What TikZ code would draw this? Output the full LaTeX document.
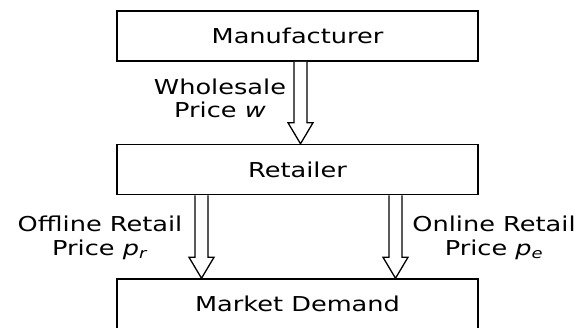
\documentclass[tikz,border=0pt]{standalone}
\usepackage{fontspec}
\setmainfont{DejaVu Sans}[FakeStretch=1.25]
\usetikzlibrary{calc}
\begin{document}
\begin{tikzpicture}[x=1pt,y=-1pt,
  box/.style={draw=black,line width=1.5pt,minimum width=361pt,minimum height=50pt,inner sep=0pt,font=\fontsize{20.5}{23.5}\selectfont},
  lbl/.style={align=center,inner sep=0pt,font=\fontsize{20.5}{23.5}\selectfont},
  blockarrow/.style={draw=black,line width=1.3pt,line join=miter,fill=white}]
\useasboundingbox (0,0) rectangle (578,327);
\clip (0,0) rectangle (578,327);
\node[box] (manu) at (297.5,36) {Manufacturer};
\node[box] (ret) at (297.5,169.5) {Retailer};
\node[box] (mkt) at (297.5,304) {Market Demand};
% arrow anchors
\coordinate (w1) at ($(manu.south)+(3,0)$);
\coordinate (w2) at ($(ret.north)+(3,0)$);
\coordinate (r1) at ($(ret.south)+(-96,0)$);
\coordinate (r2) at ($(mkt.north)+(-96,0)$);
\coordinate (e1) at ($(ret.south)+(98,0)$);
\coordinate (e2) at ($(mkt.north)+(98,0)$);
\foreach \s/\t in {w1/w2,r1/r2,e1/e2}{
  \draw[blockarrow] let \p1=(\s), \p2=(\t) in
    (\x1-6.5pt,\y1) -- (\x1-6.5pt,\y2+21pt) -- (\x1-12.5pt,\y2+21pt) -- (\x1,\y2)
    -- (\x1+12.5pt,\y2+21pt) -- (\x1+6.5pt,\y2+21pt) -- (\x1+6.5pt,\y1);
}
\node[lbl] (wl) at (220,98.5) {Wholesale\\Price \textit{w}};
\node[lbl] (ol) at (100,238) {Offline Retail\\Price \textit{p}\textsubscript{\textit{r}}};
\node[lbl] (nl) at (494,238) {Online Retail\\Price \textit{p}\textsubscript{\textit{e}}};
\end{tikzpicture}
\end{document}
